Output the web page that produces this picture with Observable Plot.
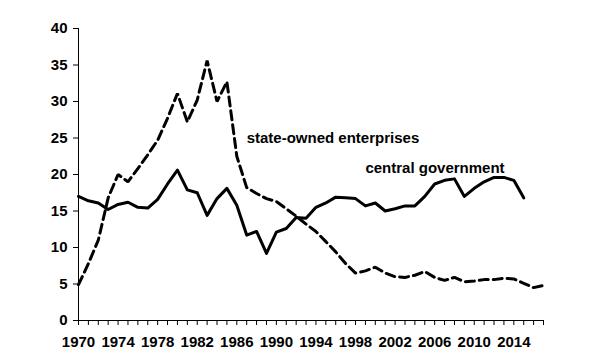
<!DOCTYPE html>
<html>
<head>
<meta charset="utf-8">
<script src="https://cdn.jsdelivr.net/npm/d3@7"></script>
<script src="https://cdn.jsdelivr.net/npm/@observablehq/plot@0.6"></script>
<style>
  html, body { margin: 0; padding: 0; background: #fff; }
  #chart { width: 600px; height: 360px; }
</style>
</head>
<body>
<div id="chart"></div>
<script>
const years = d3.range(1970, 2018);
const centralYears = d3.range(1970, 2016);
const centralGovernment = [
  17.0, 16.4, 16.1, 15.2, 15.9, 16.2, 15.5, 15.4, 16.6, 18.7,
  20.6, 17.9, 17.5, 14.4, 16.7, 18.1, 15.8, 11.7, 12.2, 9.2,
  12.1, 12.6, 14.1, 14.0, 15.5, 16.1, 16.9, 16.8, 16.7, 15.7,
  16.1, 15.0, 15.3, 15.7, 15.7, 17.0, 18.7, 19.2, 19.4, 17.0,
  18.1, 19.0, 19.6, 19.6, 19.2, 16.8
];
const stateOwnedEnterprises = [
  4.9, 7.8, 11.0, 16.8, 20.0, 19.0, 20.8, 22.7, 24.7, 27.7,
  31.1, 27.2, 30.2, 35.6, 30.0, 32.7, 22.5, 18.2, 17.4, 16.7,
  16.3, 15.3, 14.3, 13.2, 12.2, 10.8, 9.4, 7.8, 6.5, 6.8,
  7.3, 6.5, 6.0, 5.9, 6.2, 6.7, 5.9, 5.5, 5.9, 5.3,
  5.4, 5.6, 5.6, 5.8, 5.7, 5.1, 4.5, 4.8
];
const yTicks = [0, 5, 10, 15, 20, 25, 30, 35, 40];
const labelText = ["state-owned enterprises", "central government"];
const labelX = [1987, 1999];
const labelY = [25.0, 20.9];

const central = centralYears.map((y, i) => ({year: y, value: centralGovernment[i]}));
const soe = years.map((y, i) => ({year: y, value: stateOwnedEnterprises[i]}));
const labels = labelText.map((t, i) => ({text: t, x: labelX[i], y: labelY[i]}));

const font = "'Liberation Sans', Arial, sans-serif";

const chart = Plot.plot({
  width: 600,
  height: 360,
  marginLeft: 78,
  marginRight: 57,
  marginTop: 28,
  marginBottom: 40,
  style: {fontFamily: font, fontSize: "15px", fontWeight: "bold", color: "#000", background: "#fff"},
  x: {domain: [1970, 2017], label: null},
  y: {domain: [0, 40], label: null},
  marks: [
    Plot.axisY({ticks: yTicks, tickSize: 5, tickPadding: 6, fontSize: 15, fontWeight: "bold", label: null, stroke: "#000"}),
    Plot.axisX({ticks: years, tickSize: 5, tickPadding: 11, fontSize: 15, fontWeight: "bold", label: null, stroke: "#000",
      tickFormat: d => (d - 1970) % 4 === 0 ? String(d) : ""}),
    Plot.ruleX([1970], {stroke: "#000", strokeWidth: 1}),
    Plot.ruleY([0], {stroke: "#000", strokeWidth: 1}),
    Plot.line(soe, {x: "year", y: "value", stroke: "#000", strokeWidth: 3, strokeDasharray: "9,5", strokeLinejoin: "miter"}),
    Plot.line(central, {x: "year", y: "value", stroke: "#000", strokeWidth: 3, strokeLinejoin: "round"}),
    Plot.text(labels, {x: "x", y: "y", text: "text", textAnchor: "start", fontSize: 15, fontWeight: "bold", fill: "#000"})
  ]
});
document.getElementById("chart").appendChild(chart);
</script>
</body>
</html>
